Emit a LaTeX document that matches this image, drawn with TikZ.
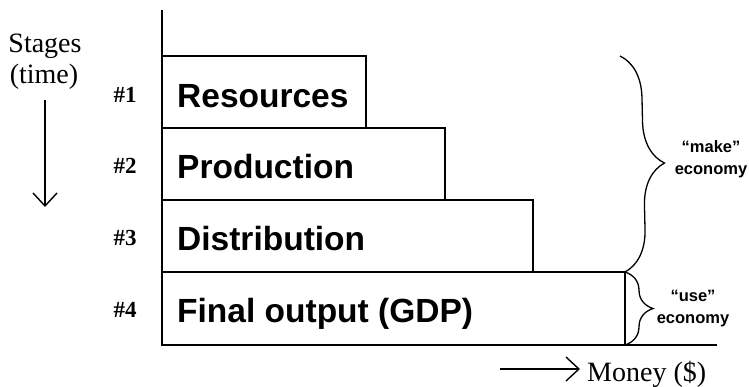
\documentclass[tikz,border=0pt]{standalone}
\usepackage{fontspec}
\setmainfont{Liberation Serif}
\newfontfamily\barfont{Liberation Sans}
\usetikzlibrary{arrows.meta,decorations.pathreplacing}

\tikzset{
  stagebar/.style={draw, line width=1.6pt, rectangle, anchor=north west,
    inner sep=0pt, outer sep=0pt, minimum height=72pt},
  barlabel/.style={anchor=base west, inner sep=0pt,
    font=\barfont\bfseries\fontsize{33.5}{36}\selectfont},
  stepnum/.style={inner sep=0pt, font=\bfseries\fontsize{23}{26}\selectfont},
  serifnote/.style={inner sep=0pt, anchor=base, font=\fontsize{28}{31}\selectfont},
  econnote/.style={inner sep=0pt, align=center,
    font=\barfont\bfseries\fontsize{16.5}{22}\selectfont},
  axisline/.style={line width=1.6pt},
  bracket/.style={line width=1.3pt, decorate},
  openarrow/.style={line width=1.4pt,
    -{Straight Barb[length=13pt,width=24pt,line width=1.4pt]}}
}

\begin{document}
\begin{tikzpicture}[x=1pt,y=-1pt]
\useasboundingbox (0,0) rectangle (749,386);

% stage bars, widening as money accumulates
\node[stagebar, minimum width=204pt] (r1) at (162,56)  {};
\node[stagebar, minimum width=283pt] (r2) at (162,128) {};
\node[stagebar, minimum width=371pt] (r3) at (162,200) {};
\node[stagebar, minimum width=463pt, minimum height=73pt] (r4) at (162,272) {};

\node[barlabel] (t1) at (177,107) {Resources};
\node[barlabel] (t2) at (177,178) {Production};
\node[barlabel] (t3) at (177,250) {Distribution};
\node[barlabel] (t4) at (177,322) {Final output (GDP)};

% stage numbers
\node[stepnum] (n1) at (125,95)  {\#1};
\node[stepnum] (n2) at (125,166) {\#2};
\node[stepnum] (n3) at (125,238) {\#3};
\node[stepnum] (n4) at (125,310) {\#4};

% axes
\coordinate (ytop) at (162,10);
\coordinate (orig) at (162,345);
\coordinate (xend) at (717,345);
\draw[axisline] (ytop) -- (orig) -- (xend);

% time direction
\node[serifnote] (stages) at (45,52) {Stages};
\node[serifnote] (time) at (44,83) {(time)};
\coordinate (tstart) at (45,100);
\coordinate (tend) at (45,207);
\draw[openarrow] (tstart) -- (tend);

% money direction
\coordinate (mstart) at (500,369);
\coordinate (mend) at (580,369);
\draw[openarrow] (mstart) -- (mend);
\node[serifnote, anchor=base west] (money) at (587,381) {Money (\$)};

% braces
\coordinate (mtop) at (620,56);
\draw[bracket, decoration={brace, amplitude=42pt}] (mtop) -- (r4.north east);
\draw[bracket, decoration={brace, amplitude=28pt}] (r4.north east) -- (r4.south east);
\node[econnote] (make) at (711,159) {“make”\\economy};
\node[econnote] (use) at (693,309) {“use”\\economy};
\end{tikzpicture}
\end{document}
